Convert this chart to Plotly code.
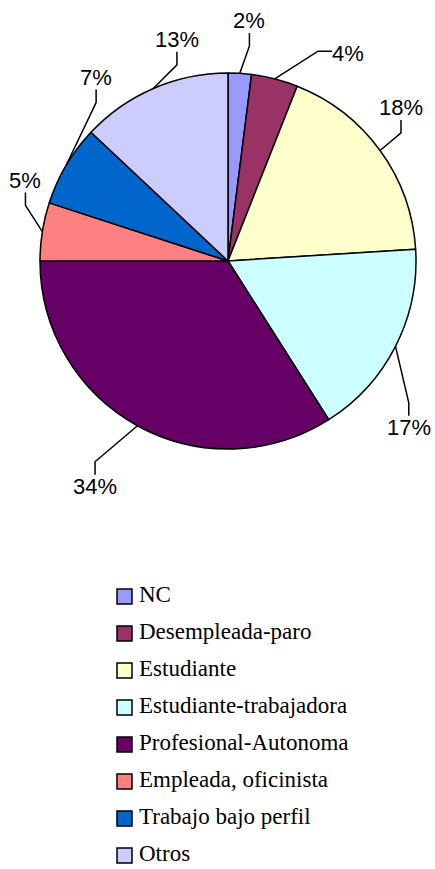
import math
import plotly.graph_objects as go

# données
categorias = ["NC", "Desempleada-paro", "Estudiante", "Estudiante-trabajadora",
              "Profesional-Autonoma", "Empleada, oficinista", "Trabajo bajo perfil", "Otros"]
porcentajes = [2, 4, 18, 17, 34, 5, 7, 13]
colores = ["#9999FF", "#993366", "#FFFFCC", "#CCFFFF",
           "#660066", "#FF8080", "#0066CC", "#CCCCFF"]

W, H = 435, 869
cx, cy, R = 228, 261, 188  # centre et rayon du camembert (px)

# placement des étiquettes façon Excel : décalage angulaire (deg) et rayon (px)
decalage_angle = [1.5, 15.6, -5.5, 15.7, 1.7, 12.7, 23.7, 10.4]
rayon_etiquette = [241, 240, 231, 246, 262, 218, 226, 227]

# légende dessinée à la main (px)
leg_x, leg_y0, leg_pas, leg_carre = 117, 596.5, 37.0, 15

dom_x = [(cx - R) / W, (cx + R) / W]
dom_y = [1 - (cy + R) / H, 1 - (cy - R) / H]

pie = go.Pie(labels=categorias, values=porcentajes, sort=False, direction="clockwise",
             rotation=0, textinfo="none", hoverinfo="label+percent", showlegend=False,
             marker=dict(colors=colores, line=dict(color="black", width=1.5)),
             domain=dict(x=dom_x, y=dom_y))

fig = go.Figure(pie)

annotations, shapes = [], []

# étiquettes avec lignes de rappel
total = sum(porcentajes)
cum = 0
for v, da, rl in zip(porcentajes, decalage_angle, rayon_etiquette):
    theta = 2 * math.pi * (cum + v / 2) / total
    cum += v
    ex, ey = cx + R * math.sin(theta), cy - R * math.cos(theta)
    phi = theta + math.radians(da)
    lx, ly = cx + rl * math.sin(phi), cy - rl * math.cos(phi)
    txt = f"{round(100 * v / total)}%"
    hw, hh = 6.5 * len(txt), 9
    if abs(lx - ex) > abs(ly - ey):
        sgn = 1 if ex > lx else -1
        tx, ty = lx + sgn * (hw + 3), ly - 2
        sx, sy = tx + sgn * 14, ty
    else:
        sgn = 1 if ey > ly else -1
        tx, ty = lx, ly + sgn * (hh + 3)
        sx, sy = tx, ty + sgn * 13
    annotations.append(dict(x=lx / W, y=1 - ly / H, xref="paper", yref="paper",
                            text=txt, showarrow=False, xanchor="center", yanchor="middle",
                            font=dict(family="Liberation Sans, Arial", size=22, color="black")))
    shapes.append(dict(type="path", xref="paper", yref="paper",
                       path=f"M{tx / W},{1 - ty / H} L{sx / W},{1 - sy / H} L{ex / W},{1 - ey / H}",
                       line=dict(color="black", width=1.5)))

# légende
for i, (nom, col) in enumerate(zip(categorias, colores)):
    yc = leg_y0 + i * leg_pas
    shapes.append(dict(type="rect", xref="paper", yref="paper",
                       x0=leg_x / W, x1=(leg_x + leg_carre) / W,
                       y0=1 - (yc - leg_carre / 2) / H, y1=1 - (yc + leg_carre / 2) / H,
                       fillcolor=col, line=dict(color="black", width=1.5)))
    annotations.append(dict(x=(leg_x + leg_carre + 5) / W, y=1 - (yc - 2) / H,
                            xref="paper", yref="paper", text=nom, showarrow=False,
                            xanchor="left", yanchor="middle",
                            font=dict(family="Liberation Serif, Times New Roman", size=23,
                                      color="black")))

fig.update_layout(
    width=W, height=H, margin=dict(l=0, r=0, t=0, b=0),
    paper_bgcolor="white", plot_bgcolor="white",
    annotations=annotations, shapes=shapes,
    showlegend=False)
fig.write_html("out.html", config={"displayModeBar": False},
               post_script="document.body.style.margin='0';")
